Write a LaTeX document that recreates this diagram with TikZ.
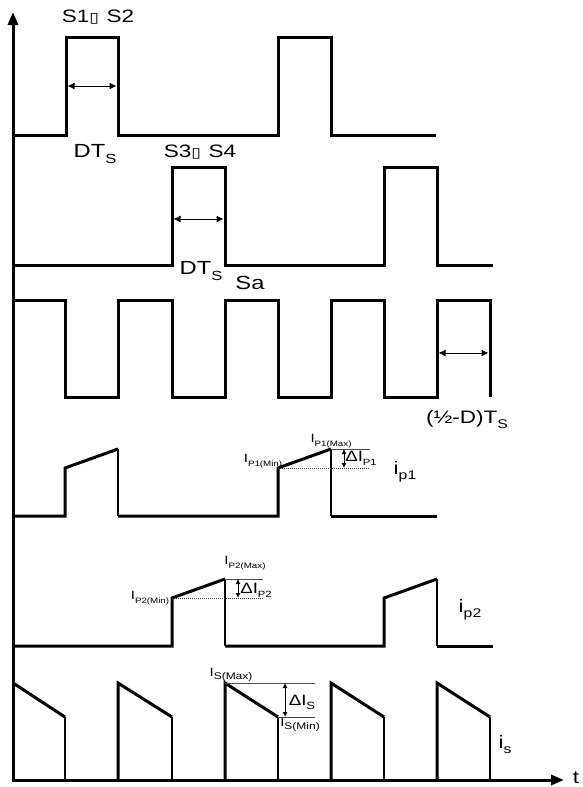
\documentclass[tikz,border=0pt]{standalone}
\usepackage{fontspec}
\setmainfont{Liberation Sans}
\newfontfamily\dvs{DejaVu Sans}
\usetikzlibrary{arrows.meta}
\newcommand\sbx[2][0.62]{\raisebox{-0.28em}{\scalebox{#1}{#2}}}
\newcommand\wtxt[1]{\scalebox{1.25}[1]{#1}}
\newcommand\boxg{{\dvs\fontsize{14}{14}\selectfont ▯}}
\tikzset{
  wave/.style={line width=3pt, line join=miter},
  thinedge/.style={line width=1.6pt},
  axisline/.style={line width=3pt, line join=miter, {Triangle[length=13pt,width=10pt]}-{Triangle[length=13pt,width=10pt]}},
  dimarrow/.style={line width=1pt, {Latex[length=7pt,width=7pt]}-{Latex[length=7pt,width=7pt]}},
  smallarrow/.style={line width=0.9pt, {Latex[length=5pt,width=5pt]}-{Latex[length=5pt,width=5pt]}},
  refline/.style={line width=0.6pt, black!70},
  refdot/.style={line width=0.7pt, black!80, dash pattern=on 1.2pt off 0.8pt},
  lbl/.style={inner sep=0pt, font=\fontsize{18}{18}\selectfont},
  biglbl/.style={inner sep=0pt, font=\fontsize{19}{19}\selectfont},
  smalllbl/.style={inner sep=0pt, font=\fontsize{12}{12}\selectfont},
  deltalbl/.style={inner sep=0pt, font=\fontsize{15}{15}\selectfont},
}
\begin{document}
\begin{tikzpicture}[x=1pt,y=-1pt]
\useasboundingbox (0,0) rectangle (582,787);

% axes
\coordinate (ytop) at (13,12);
\coordinate (xend) at (564,780);
\draw[axisline] (ytop) |- (xend);
\node[lbl] (t) at (576,778) {\wtxt{t}};

% S1/S2
\draw[wave] (13,135) -- (66,135) -- (66,37) -- (118,37) -- (118,135) -- (278,135) -- (278,37) -- (331,37) -- (331,135) -- (436,135);
\coordinate (a1l) at (67.5,86);
\coordinate (a1r) at (116.5,86);
\draw[dimarrow] (a1l) -- (a1r);
\node[lbl] (s12) at (98,17) {\wtxt{S1\boxg\hspace{6pt}S2}};
\node[biglbl] (dt1) at (95,154) {\wtxt{DT\sbx[0.7]{S}}};

% S3/S4
\draw[wave] (13,265) -- (172,265) -- (172,167) -- (225,167) -- (225,265) -- (384,265) -- (384,167) -- (437,167) -- (437,265) -- (493,265);
\coordinate (a2l) at (173.5,219);
\coordinate (a2r) at (223.5,219);
\draw[dimarrow] (a2l) -- (a2r);
\node[lbl] (s34) at (200,152) {\wtxt{S3\boxg\hspace{6pt}S4}};
\node[biglbl] (dt2) at (201,271) {\wtxt{DT\sbx[0.7]{S}}};

% Sa
\draw[wave] (13,300) -- (65,300) -- (65,397) -- (118,397) -- (118,300) -- (172,300) -- (172,397) -- (225,397) -- (225,300) -- (278,300) -- (278,397) -- (331,397) -- (331,300) -- (384,300) -- (384,397) -- (437,397) -- (437,300) -- (490,300) -- (490,397);
\coordinate (a3l) at (438.5,353);
\coordinate (a3r) at (488.5,353);
\draw[dimarrow] (a3l) -- (a3r);
\node[biglbl] (sa) at (250,283) {\wtxt{Sa}};
\node[lbl] (half) at (467,420) {\wtxt{(½-D)T\sbx[0.7]{S}}};

% ip1
\draw[wave] (13,516) -- (65,516) -- (65,468) -- (118,449);
\draw[thinedge] (118,449) -- (118,516);
\draw[wave] (118,516) -- (278,516) -- (278,468) -- (331,449);
\draw[thinedge] (331,449) -- (331,516);
\draw[wave] (331,516) -- (437,516);
\coordinate (p1max) at (331,449);
\coordinate (p1maxe) at (370,449);
\coordinate (p1min) at (278,468);
\coordinate (p1mine) at (370,468);
\draw[refline] (p1max) -- (p1maxe);
\draw[refdot] (p1min) -- (p1mine);
\coordinate (d1t) at (344,449);
\coordinate (d1b) at (344,468);
\draw[smallarrow] (d1t) -- (d1b);
\node[smalllbl] (ip1max) at (331,441) {\wtxt{I\sbx[0.65]{P1(Max)}}};
\node[smalllbl] (ip1min) at (263,461) {\wtxt{I\sbx[0.65]{P1(Min)}}};
\node[deltalbl] (dip1) at (361,458) {\wtxt{ΔI\sbx[0.6]{P1}}};
\node[lbl] (ip1) at (405,472) {\wtxt{i\sbx[0.7]{p1}}};

% ip2
\draw[wave] (13,646) -- (172,646) -- (172,598) -- (225,579);
\draw[thinedge] (225,579) -- (225,646);
\draw[wave] (225,646) -- (384,646) -- (384,598) -- (437,579);
\draw[thinedge] (437,579) -- (437,646);
\draw[wave] (437,646) -- (493,646);
\coordinate (p2max) at (225,579);
\coordinate (p2maxe) at (263,579);
\coordinate (p2min) at (172,598);
\coordinate (p2mine) at (263,598);
\draw[refline] (p2max) -- (p2maxe);
\draw[refdot] (p2min) -- (p2mine);
\coordinate (d2t) at (238,579);
\coordinate (d2b) at (238,598);
\draw[smallarrow] (d2t) -- (d2b);
\node[smalllbl] (ip2max) at (245,563) {\wtxt{I\sbx[0.65]{P2(Max)}}};
\node[smalllbl] (ip2min) at (150,598) {\wtxt{I\sbx[0.65]{P2(Min)}}};
\node[deltalbl] (dip2) at (256,590) {\wtxt{ΔI\sbx[0.6]{P2}}};
\node[lbl] (ip2) at (470,610) {\wtxt{i\sbx[0.7]{p2}}};

% is
\draw[wave] (13,683) -- (65,717);
\draw[thinedge] (65,717) -- (65,780);
\draw[wave] (118,780) -- (118,683) -- (172,717);
\draw[thinedge] (172,717) -- (172,780);
\draw[wave] (225,780) -- (225,683) -- (278,717);
\draw[thinedge] (278,717) -- (278,780);
\draw[wave] (331,780) -- (331,683) -- (384,717);
\draw[thinedge] (384,717) -- (384,780);
\draw[wave] (437,780) -- (437,683) -- (490,717);
\draw[thinedge] (490,717) -- (490,780);
\coordinate (smax) at (225,683);
\coordinate (smaxe) at (315,683);
\coordinate (smin) at (278,717);
\coordinate (smine) at (315,717);
\draw[refline] (smax) -- (smaxe);
\draw[refline] (smin) -- (smine);
\coordinate (d3t) at (285,683);
\coordinate (d3b) at (285,717);
\draw[smallarrow] (d3t) -- (d3b);
\node[smalllbl] (ismax) at (231,675) {\wtxt{I\sbx[0.8]{S(Max)}}};
\node[smalllbl] (ismin) at (300,725) {\wtxt{I\sbx[0.8]{S(Min)}}};
\node[deltalbl] (dis) at (302,702) {\wtxt{ΔI\sbx[0.7]{S}}};
\node[lbl] (isl) at (505,745) {\wtxt{i\sbx[0.7]{s}}};
\end{tikzpicture}
\end{document}
